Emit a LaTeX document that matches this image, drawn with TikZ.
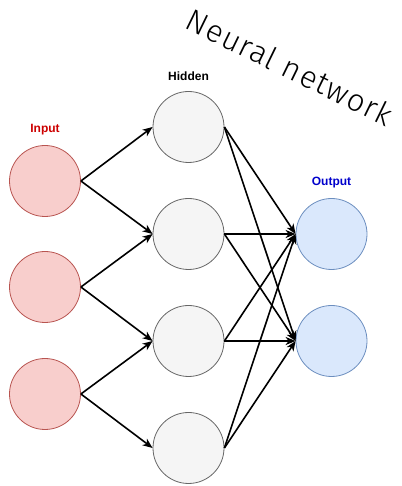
\documentclass[tikz,border=0pt]{standalone}
\usepackage{fontspec}
\setmainfont{Liberation Sans}
\newfontfamily\handfont[UprightFont=* Light,LetterSpace=4]{Fira Sans}
\usetikzlibrary{arrows.meta}
\usetikzlibrary{positioning}

\definecolor{inFill}{HTML}{F8CECC}
\definecolor{inLine}{HTML}{B85450}
\definecolor{hidFill}{HTML}{F5F5F5}
\definecolor{hidLine}{HTML}{666666}
\definecolor{outFill}{HTML}{DAE8FC}
\definecolor{outLine}{HTML}{6C8EBF}
\definecolor{inText}{HTML}{CC0000}
\definecolor{outText}{HTML}{0000CC}

\begin{document}
\begin{tikzpicture}[x=1pt,y=1pt]
	\tikzstyle{neuron}=[draw,shape=circle,minimum size=71pt,inner sep=0pt,line width=0.8pt];
	\tikzstyle{innode}=[neuron,fill=inFill,draw=inLine];
	\tikzstyle{hidnode}=[neuron,fill=hidFill,draw=hidLine];
	\tikzstyle{outnode}=[neuron,fill=outFill,draw=outLine];
	\tikzstyle{layer}=[font=\bfseries\fontsize{12}{14}\selectfont];
	\tikzstyle{link}=[line width=1.6pt,-{Stealth[length=10pt,width=8pt,inset=3pt]}];
	\useasboundingbox (0,0) rectangle (401,486);
	% input layer
	\path (45,305)    node[innode] (i1) {};
	\path (45,199)    node[innode] (i2) {};
	\path (45,92)     node[innode] (i3) {};
	% hidden layer
	\path (188.5,359) node[hidnode] (h1) {};
	\path (188.5,252) node[hidnode] (h2) {};
	\path (188.5,145) node[hidnode] (h3) {};
	\path (188.5,38)  node[hidnode] (h4) {};
	% output layer
	\path (331.5,252) node[outnode] (o1) {};
	\path (331.5,145) node[outnode] (o2) {};
	% labels
	\node[layer,text=inText,above=7pt of i1] (lin) {Input};
	\node[layer,above=7pt of h1] (lhid) {Hidden};
	\node[layer,text=outText,above=7pt of o1] (lout) {Output};
	\node[rotate=-26,font=\handfont\fontsize{31}{32}\selectfont] (title) at (290,419) {Neural network};
	\draw[link] (i1.east) -- (h1.west);
	\draw[link] (i1.east) -- (h2.west);
	\draw[link] (i2.east) -- (h2.west);
	\draw[link] (i2.east) -- (h3.west);
	\draw[link] (i3.east) -- (h3.west);
	\draw[link] (i3.east) -- (h4.west);
	\draw[link] (h1.east) -- (o1.west);
	\draw[link] (h1.east) -- (o2.west);
	\draw[link] (h2.east) -- (o1.west);
	\draw[link] (h2.east) -- (o2.west);
	\draw[link] (h3.east) -- (o1.west);
	\draw[link] (h3.east) -- (o2.west);
	\draw[link] (h4.east) -- (o1.west);
	\draw[link] (h4.east) -- (o2.west);
\end{tikzpicture}
\end{document}
